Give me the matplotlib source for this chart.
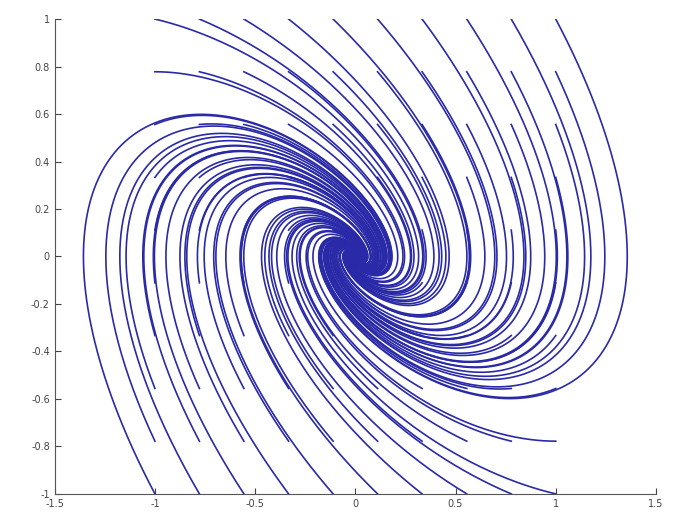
import numpy as np
import matplotlib
matplotlib.use("Agg")
import matplotlib.pyplot as plt

# linear system  x' = a*x + b*y ,  y' = c*x + d*y
a, b = 0.0, 1.0
c, d = -0.7, -0.9

# starting points (grid)
start_x = [-1.0, -0.778, -0.556, -0.333, -0.111, 0.111, 0.333, 0.556, 0.778, 1.0]
start_y = [-1.0, -0.778, -0.556, -0.333, -0.111, 0.111, 0.333, 0.556, 0.778, 1.0]

x_ticks = [-1.5, -1, -0.5, 0, 0.5, 1, 1.5]
x_labels = ["-1.5", "-1", "-0.5", "0", "0.5", "1", "1.5"]
y_ticks = [-1, -0.8, -0.6, -0.4, -0.2, 0, 0.2, 0.4, 0.6, 0.8, 1]
y_labels = ["-1", "-0.8", "-0.6", "-0.4", "-0.2", "0", "0.2", "0.4", "0.6", "0.8", "1"]

T = 25.0
dt = 0.01


def f(p):
    return np.array([a * p[0] + b * p[1], c * p[0] + d * p[1]])


def trajectory(x0, y0):
    # plain RK4
    n = int(T / dt)
    pts = np.zeros((n + 1, 2))
    p = np.array([x0, y0])
    pts[0] = p
    for i in range(n):
        k1 = f(p)
        k2 = f(p + dt / 2 * k1)
        k3 = f(p + dt / 2 * k2)
        k4 = f(p + dt * k3)
        p = p + dt / 6 * (k1 + 2 * k2 + 2 * k3 + k4)
        pts[i + 1] = p
    return pts


fig = plt.figure(figsize=(6.84, 5.15), dpi=100)
ax = fig.add_axes([0.080, 0.041, 0.879, 0.922])

for x0 in start_x:
    for y0 in start_y:
        pts = trajectory(x0, y0)
        ax.plot(pts[:, 0], pts[:, 1], color="#2a2aa8", lw=1.2)

ax.set_xlim(-1.5, 1.5)
ax.set_ylim(-1, 1)
ax.set_xticks(x_ticks)
ax.set_xticklabels(x_labels)
ax.set_yticks(y_ticks)
ax.set_yticklabels(y_labels)
ax.spines["top"].set_visible(False)
ax.spines["right"].set_visible(False)
ax.spines["left"].set_color("#555555")
ax.spines["bottom"].set_color("#555555")
ax.tick_params(direction="in", labelsize=7, length=4, colors="#444444")

fig.savefig("out.png", dpi=100)
